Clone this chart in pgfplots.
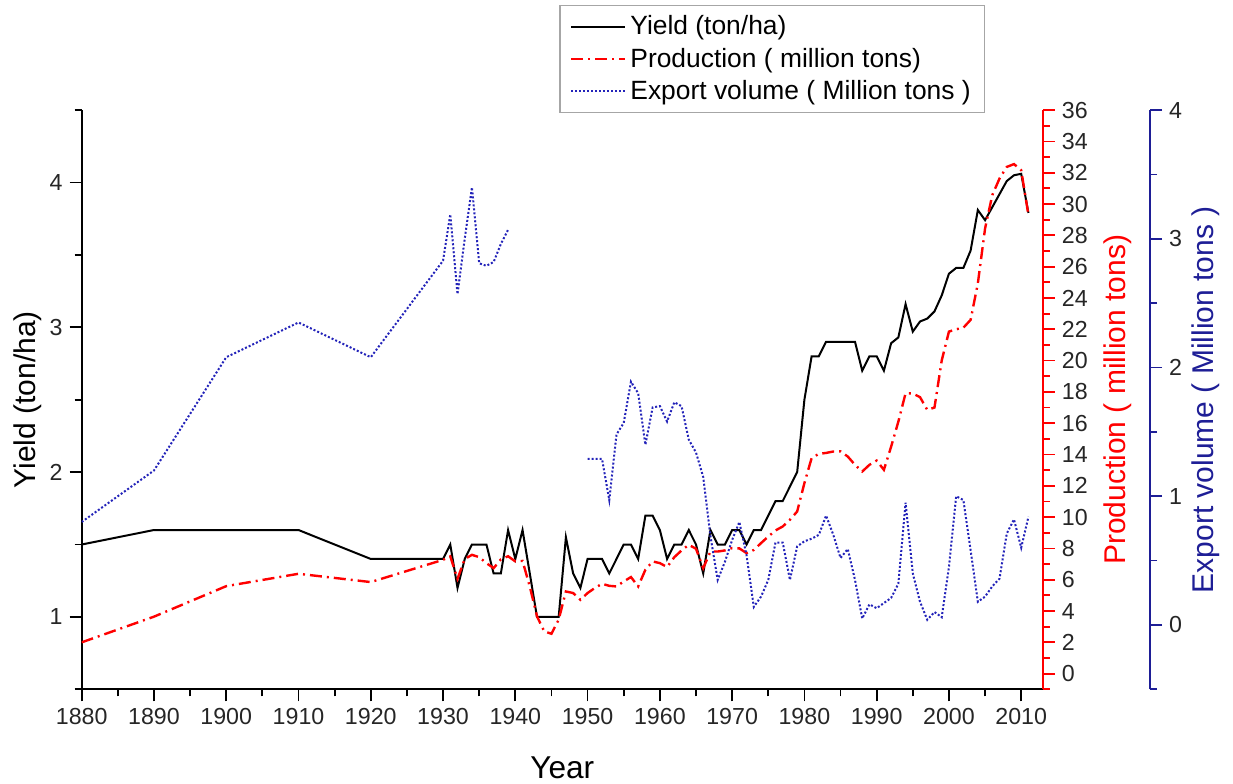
\documentclass[border=0pt]{standalone}
\usepackage{fontspec}
\setmainfont{Liberation Sans}
\usepackage{pgfplots}
\usepackage{pgfplotstable}
\pgfplotsset{compat=1.18}
\definecolor{expline}{RGB}{35,35,185}
\definecolor{expaxis}{RGB}{30,30,150}

\pgfplotstableread{
year yield
1880 1.5
1890 1.6
1900 1.6
1910 1.6
1920 1.4
1930 1.4
1931 1.5
1932 1.2
1933 1.4
1934 1.5
1935 1.5
1936 1.5
1937 1.3
1938 1.3
1939 1.6
1940 1.4
1941 1.6
1942 1.3
1943 1.0
1944 1.0
1945 1.0
1946 1.0
1947 1.55
1948 1.3
1949 1.2
1950 1.4
1951 1.4
1952 1.4
1953 1.3
1954 1.4
1955 1.5
1956 1.5
1957 1.4
1958 1.7
1959 1.7
1960 1.6
1961 1.4
1962 1.5
1963 1.5
1964 1.6
1965 1.5
1966 1.3
1967 1.6
1968 1.5
1969 1.5
1970 1.6
1971 1.6
1972 1.5
1973 1.6
1974 1.6
1975 1.7
1976 1.8
1977 1.8
1978 1.9
1979 2.0
1980 2.5
1981 2.8
1982 2.8
1983 2.9
1984 2.9
1985 2.9
1986 2.9
1987 2.9
1988 2.7
1989 2.8
1990 2.8
1991 2.7
1992 2.89
1993 2.93
1994 3.16
1995 2.97
1996 3.04
1997 3.06
1998 3.11
1999 3.22
2000 3.37
2001 3.41
2002 3.41
2003 3.53
2004 3.81
2005 3.74
2006 3.83
2007 3.92
2008 4.01
2009 4.05
2010 4.06
2011 3.79
}\yieldtab

\pgfplotstableread{
year prod
1880 2.0
1890 3.64
1900 5.59
1910 6.38
1920 5.85
1930 7.27
1931 7.49
1932 6.06
1933 7.32
1934 7.59
1935 7.44
1936 7.06
1937 6.74
1938 7.3
1939 7.5
1940 7.17
1941 7.2
1942 5.57
1943 3.66
1944 2.7
1945 2.55
1946 3.45
1947 5.25
1948 5.15
1949 4.72
1950 5.15
1951 5.47
1952 5.74
1953 5.61
1954 5.57
1955 5.89
1956 6.17
1957 5.57
1958 6.64
1959 7.17
1960 7.06
1961 6.81
1962 7.44
1963 7.87
1964 8.23
1965 7.98
1966 6.74
1967 7.8
1968 7.8
1969 7.87
1970 8.02
1971 8.0
1972 7.7
1973 7.9
1974 8.34
1975 8.76
1976 9.15
1977 9.4
1978 9.83
1979 10.36
1980 12.17
1981 13.77
1982 14.04
1983 14.1
1984 14.19
1985 14.2
1986 13.87
1987 13.34
1988 12.91
1989 13.34
1990 13.61
1991 13.02
1992 14.5
1993 16.1
1994 17.91
1995 17.9
1996 17.66
1997 16.85
1998 17.0
1999 20.0
2000 21.85
2001 22.0
2002 22.1
2003 22.6
2004 24.93
2005 28.44
2006 30.57
2007 31.63
2008 32.37
2009 32.55
2010 32.16
2011 29.29
}\prodtab

\pgfplotstableread{
year exp
1880 0.80
1890 1.20
1900 2.08
1910 2.35
1920 2.08
1930 2.83
1931 3.19
1932 2.57
1933 3.0
1934 3.40
1935 2.81
1936 2.79
1937 2.82
1938 2.96
1939 3.07
}\expAtab

\pgfplotstableread{
year exp
1950 1.29
1951 1.29
1952 1.29
1953 0.97
1954 1.48
1955 1.57
1956 1.89
1957 1.80
1958 1.40
1959 1.69
1960 1.70
1961 1.58
1962 1.73
1963 1.70
1964 1.44
1965 1.34
1966 1.15
1967 0.69
1968 0.35
1969 0.49
1970 0.66
1971 0.80
1972 0.54
1973 0.14
1974 0.22
1975 0.35
1976 0.64
1977 0.64
1978 0.35
1979 0.61
1980 0.65
1981 0.67
1982 0.70
1983 0.85
1984 0.70
1985 0.52
1986 0.59
1987 0.35
1988 0.05
1989 0.16
1990 0.13
1991 0.17
1992 0.21
1993 0.32
1994 0.95
1995 0.40
1996 0.18
1997 0.04
1998 0.10
1999 0.06
2000 0.45
2001 1.00
2002 0.97
2003 0.58
2004 0.18
2005 0.22
2006 0.30
2007 0.36
2008 0.71
2009 0.82
2010 0.60
2011 0.84
}\expBtab

\pgfplotsset{
  base/.style={
    scale only axis, x=3.6135pt, height=289.6pt,
    at={(0pt,0pt)}, anchor=south west,
    xmin=1880,
    tick align=outside, major tick length=6pt, minor tick length=3.5pt,
    /pgf/number format/assume math mode=true,
    /pgf/number format/1000 sep={},
    tick label style={font=\fontsize{11.6}{14}\selectfont, text=black!85},
    axis line style={-, line width=1pt},
    tick style={line width=0.9pt},
    label style={font=\fontsize{15}{18}\selectfont},
  },
  yieldstyle/.style={black, line width=1pt},
  prodstyle/.style={red, line width=1.2pt, dash pattern=on 6pt off 2.5pt on 1pt off 2.5pt},
  expstyle/.style={expline, line width=1pt, dash pattern=on 1pt off 1pt},
}

\begin{document}
\begin{tikzpicture}
\path[use as bounding box] (-40.85pt,-46.85pt) rectangle (575.65pt,344.65pt);

\begin{axis}[base, xmax=2013, ymin=0.5, ymax=4.5,
  axis x line*=bottom, axis y line*=left,
  xtick={1880,1890,...,2010}, minor xtick={1885,1895,...,2005},
  ytick={1,2,3,4}, minor ytick={0.5,1.5,...,4.5},
  tick style={black},
  xlabel={Year}, ylabel={Yield (ton/ha)},
  xlabel style={at={([yshift=-44.8pt]axis description cs:0.5,0)}, anchor=base, font=\fontsize{15.8}{18}\selectfont},
  ylabel style={at={([xshift=-23pt]axis description cs:0,0.5)}, anchor=base},
  legend style={at={(0.497,1.181)}, anchor=north west, draw=black!35, line width=0.6pt,
    font=\fontsize{13.2}{15.8}\selectfont, inner xsep=5pt, inner ysep=3pt, row sep=1pt,
    cells={anchor=west}},
  legend image code/.code={\draw[#1] (0pt,0pt) -- (27pt,0pt);},
]
\addplot[yieldstyle] table[x=year,y=yield] {\yieldtab};
\addlegendentry{Yield (ton/ha)}
\addlegendimage{prodstyle}
\addlegendentry{Production ( million tons)}
\addlegendimage{expstyle}
\addlegendentry{Export volume ( Million tons )}
\end{axis}

\begin{axis}[base, xmax=2013, ymin=-1, ymax=36,
  axis x line=none, axis y line*=right,
  ytick={0,2,...,36}, minor ytick={-1,1,...,35},
  y axis line style={red}, tick style={red},
  ylabel={Production ( million tons)},
  ylabel style={red, at={([xshift=41.5pt]axis description cs:1,0.5)}, anchor=base},
]
\addplot[prodstyle] table[x=year,y=prod] {\prodtab};
\end{axis}

\begin{axis}[base, xmax=2027.82, ymin=-0.5, ymax=4,
  axis x line=none, axis y line*=right,
  ytick={0,1,2,3,4}, minor ytick={-0.5,0.5,1.5,2.5,3.5},
  y axis line style={expaxis}, tick style={expaxis},
  ylabel={Export volume ( Million tons )},
  ylabel style={expaxis, at={([xshift=31.5pt]axis description cs:1,0.5)}, anchor=base},
]
\addplot[expstyle] table[x=year,y=exp] {\expAtab};
\addplot[expstyle] table[x=year,y=exp] {\expBtab};
\end{axis}
\end{tikzpicture}
\end{document}
